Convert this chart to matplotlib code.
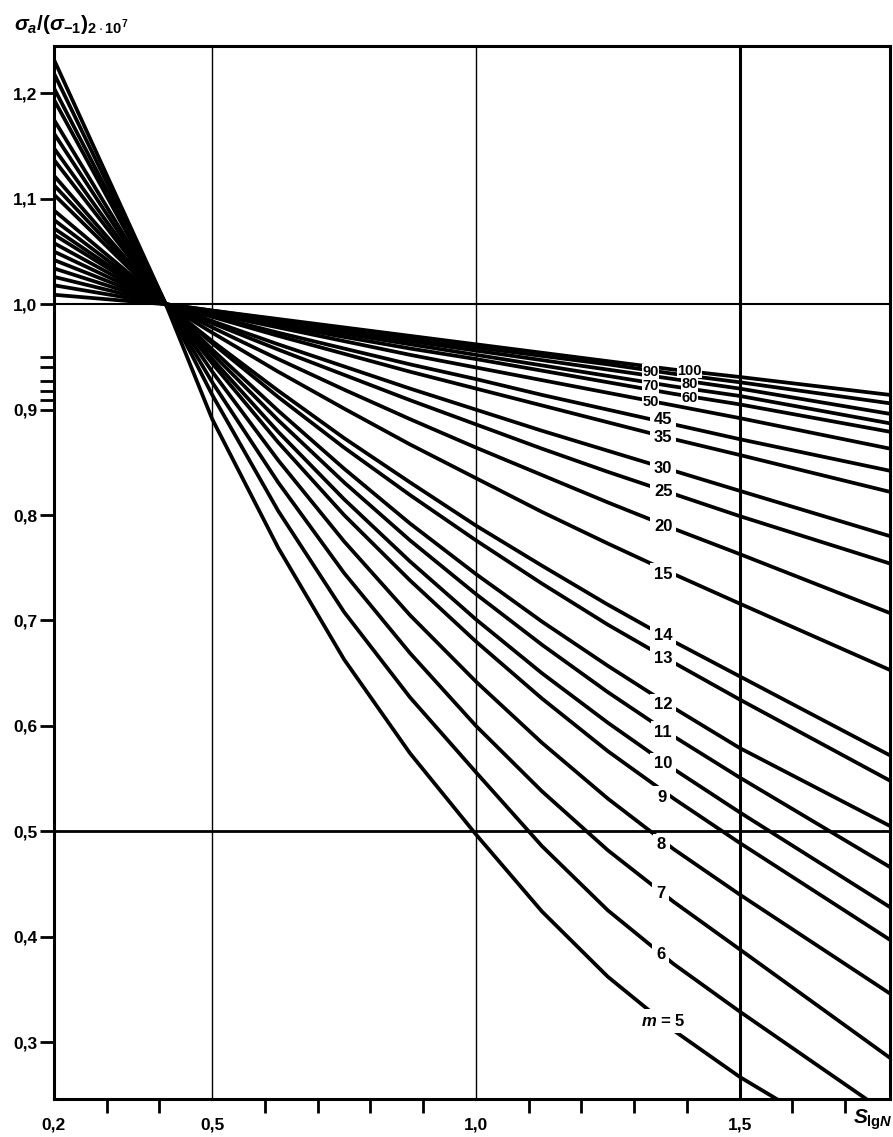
import numpy as np
import matplotlib
matplotlib.use("Agg")
import matplotlib.pyplot as plt

# curve parameter m (one line per value)
m_values = [5, 6, 7, 8, 9, 10, 11, 12, 13, 14, 15, 20, 25, 30, 35, 45, 50, 60, 70, 80, 90, 100]

# all curves run through this point
cross_s, cross_ratio = 0.412, 1.0

# ratio at fixed S_lgN (order of m_values)
ratio_s0200 = [1.232, 1.219, 1.205, 1.194, 1.175, 1.162, 1.148, 1.137, 1.122, 1.113, 1.104,
               1.089, 1.080, 1.072, 1.066, 1.058, 1.050, 1.042, 1.034, 1.026, 1.018, 1.009]
ratio_s0500 = [0.891, 0.914, 0.926, 0.936, 0.944, 0.948, 0.953, 0.957, 0.963, 0.965, 0.973,
               0.978, 0.982, 0.984, 0.988, 0.989, 0.991, 0.992, 0.993, 0.993, 0.994, 0.994]
ratio_s0625 = [0.769, 0.804, 0.831, 0.852, 0.869, 0.879, 0.890, 0.899, 0.912, 0.918, 0.936,
               0.948, 0.957, 0.962, 0.970, 0.973, 0.978, 0.980, 0.982, 0.983, 0.985, 0.986]
ratio_s0750 = [0.663, 0.708, 0.745, 0.775, 0.800, 0.815, 0.831, 0.844, 0.864, 0.873, 0.901,
               0.919, 0.933, 0.941, 0.953, 0.958, 0.965, 0.969, 0.972, 0.974, 0.976, 0.978]
ratio_s0875 = [0.574, 0.627, 0.669, 0.705, 0.738, 0.756, 0.776, 0.792, 0.819, 0.831, 0.867,
               0.891, 0.909, 0.920, 0.936, 0.943, 0.952, 0.958, 0.962, 0.965, 0.967, 0.970]
ratio_s1000 = [0.497, 0.556, 0.600, 0.642, 0.680, 0.701, 0.725, 0.744, 0.776, 0.790, 0.835,
               0.864, 0.886, 0.900, 0.920, 0.929, 0.940, 0.948, 0.952, 0.956, 0.959, 0.962]
ratio_s1125 = [0.424, 0.486, 0.538, 0.584, 0.626, 0.650, 0.677, 0.699, 0.735, 0.752, 0.803,
               0.838, 0.863, 0.880, 0.904, 0.914, 0.928, 0.937, 0.942, 0.947, 0.951, 0.954]
ratio_s1250 = [0.362, 0.425, 0.482, 0.531, 0.576, 0.603, 0.632, 0.657, 0.696, 0.715, 0.773,
               0.812, 0.841, 0.861, 0.888, 0.900, 0.916, 0.926, 0.932, 0.938, 0.943, 0.946]
ratio_s1375 = [0.311, 0.374, 0.433, 0.483, 0.531, 0.559, 0.590, 0.617, 0.660, 0.680, 0.744,
               0.787, 0.820, 0.842, 0.872, 0.886, 0.904, 0.915, 0.922, 0.929, 0.934, 0.938]
ratio_s1500 = [0.267, 0.329, 0.388, 0.440, 0.489, 0.518, 0.551, 0.579, 0.625, 0.647, 0.716,
               0.763, 0.799, 0.823, 0.857, 0.872, 0.892, 0.905, 0.913, 0.920, 0.926, 0.931]
# where each curve leaves the frame (right edge, or bottom for m = 5 and 6)
end_s = [1.57, 1.74, 1.785, 1.785, 1.785, 1.785, 1.785, 1.785, 1.785, 1.785, 1.785,
         1.785, 1.785, 1.785, 1.785, 1.785, 1.785, 1.785, 1.785, 1.785, 1.785, 1.785]
end_ratio = [0.246, 0.246, 0.285, 0.346, 0.397, 0.428, 0.466, 0.505, 0.548, 0.572, 0.653,
             0.707, 0.754, 0.780, 0.822, 0.842, 0.863, 0.879, 0.887, 0.896, 0.906, 0.914]

# curve labels and where they sit
label_text = ["$m$ = 5", "6", "7", "8", "9", "10", "11", "12", "13", "14", "15",
              "20", "25", "30", "35", "45", "50", "60", "70", "80", "90", "100"]
label_s = [1.355, 1.350, 1.350, 1.352, 1.352, 1.355, 1.355, 1.355, 1.355, 1.355, 1.355,
           1.355, 1.355, 1.355, 1.355, 1.355, 1.331, 1.405, 1.331, 1.405, 1.331, 1.405]
label_ratio = [0.320, 0.383, 0.441, 0.487, 0.532, 0.564, 0.594, 0.620, 0.664, 0.686, 0.744,
               0.789, 0.822, 0.844, 0.874, 0.891, 0.907, 0.911, 0.922, 0.924, 0.936, 0.937]

x_major = [0.2, 0.5, 1.0, 1.5]
x_major_labels = ["0,2", "0,5", "1,0", "1,5"]
x_minor = [0.3, 0.4, 0.6, 0.7, 0.8, 0.9, 1.1, 1.2, 1.3, 1.4, 1.6, 1.7]
y_major = [0.3, 0.4, 0.5, 0.6, 0.7, 0.8, 0.9, 1.0, 1.1, 1.2]
y_major_labels = ["0,3", "0,4", "0,5", "0,6", "0,7", "0,8", "0,9", "1,0", "1,1", "1,2"]
y_minor = [0.909, 0.918, 0.927, 0.940, 0.950]

plt.rcParams["font.family"] = ["Liberation Sans", "DejaVu Sans"]
plt.rcParams["mathtext.fontset"] = "custom"
plt.rcParams["mathtext.rm"] = "Liberation Sans:bold"
plt.rcParams["mathtext.it"] = "Liberation Sans:italic:bold"
plt.rcParams["mathtext.bf"] = "Liberation Sans:bold"

fig = plt.figure(figsize=(8.93, 11.37), dpi=100)
ax = fig.add_axes([54 / 893, 1 - 1099 / 1137, (890 - 54) / 893, (1099 - 46) / 1137])
ax.set_xlim(0.2, 1.785)
ax.set_ylim(0.246, 1.245)

# reference grid
ax.axhline(1.0, color="k", lw=1.5, zorder=1)
ax.axhline(0.5, color="k", lw=2.0, zorder=1)
ax.axvline(0.5, color="k", lw=1.0, zorder=1)
ax.axvline(1.0, color="k", lw=1.0, zorder=1)
ax.axvline(1.5, color="k", lw=2.2, zorder=1)

s_nodes = [0.5, 0.625, 0.75, 0.875, 1.0, 1.125, 1.25, 1.375, 1.5]
cols = [ratio_s0500, ratio_s0625, ratio_s0750, ratio_s0875, ratio_s1000,
        ratio_s1125, ratio_s1250, ratio_s1375, ratio_s1500]
for i, m in enumerate(m_values):
    xs = [0.2, cross_s] + s_nodes + [end_s[i]]
    ys = [ratio_s0200[i], cross_ratio] + [c[i] for c in cols] + [end_ratio[i]]
    ax.plot(xs, ys, color="k", lw=2.7, solid_joinstyle="round", zorder=2)

# labels sit in a gap cut into their curve
for i, (t, s, r) in enumerate(zip(label_text, label_s, label_ratio)):
    cluster = m_values[i] >= 50
    ax.text(s, r, t, ha="center", va="center",
            fontsize=10.5 if cluster else 12, fontweight="bold",
            bbox=dict(fc="white", ec="none", pad=0.2 if cluster else 2.6), zorder=4)

for sp in ax.spines.values():
    sp.set_linewidth(2.2)

ax.set_xticks(x_major)
ax.set_xticklabels(x_major_labels)
ax.set_xticks(x_minor, minor=True)
ax.set_yticks(y_major)
ax.set_yticklabels(y_major_labels)
ax.set_yticks(y_minor, minor=True)
ax.tick_params(which="both", direction="out", length=10, width=2)
ax.tick_params(axis="x", which="major", length=0, pad=13)
ax.tick_params(axis="y", which="major", pad=2)
for lab in ax.get_xticklabels() + ax.get_yticklabels():
    lab.set_fontweight("bold")
    lab.set_fontsize(12.5)

fig.text(14 / 893, 1 - 25 / 1137, r"$\sigma_a/(\sigma_{-1})_{2\cdot10^7}$",
         fontsize=15, ha="left", va="center")
fig.text(873 / 893, 1 - 1120 / 1137, r"$S_{\mathrm{lg}N}$", fontsize=15,
         ha="center", va="center")

fig.savefig("out.png", dpi=100)
